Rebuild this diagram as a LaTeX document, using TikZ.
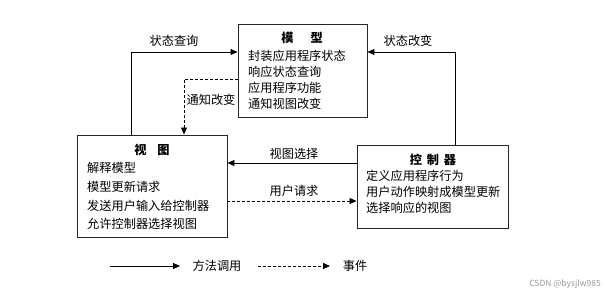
\documentclass[tikz,border=0pt]{standalone}
\usepackage{fontspec}
\setmainfont{Noto Sans CJK SC}
\newfontfamily\cjk{Noto Sans CJK SC}
\usetikzlibrary{arrows.meta}
\begin{document}
\begin{tikzpicture}[x=1pt,y=-1pt,
  box/.style={draw=black!85,line width=0.9pt,minimum width=#1,inner sep=0pt},
  txt/.style={font=\fontsize{12.2}{12.2}\selectfont,inner sep=0pt,anchor=west},
  ttl/.style={font=\fontsize{12.2}{12.2}\selectfont\bfseries,inner sep=0pt},
  lbl/.style={font=\fontsize{12.2}{12.2}\selectfont,inner sep=0pt},
  conn/.style={line width=0.8pt,-{Triangle[length=7pt,width=6pt]}},
  evt/.style={conn,dash pattern=on 3pt off 2pt}]
\useasboundingbox (0,0) rectangle (604,296);
% boxes
\node[box=129pt,minimum height=93pt] (model) at (302.5,70.5) {};
\node[box=150pt,minimum height=102pt] (view) at (152,186) {};
\node[box=151pt,minimum height=83pt] (ctrl) at (432.5,186.5) {};
% model text
\node[ttl] (mt) at (302,38) {模\hspace{1.4em}型};
\node[txt] (m1) at (248,56) {封装应用程序状态};
\node[txt] (m2) at (248,72) {响应状态查询};
\node[txt] (m3) at (248,88) {应用程序功能};
\node[txt] (m4) at (248,104) {通知视图改变};
% view text
\node[ttl] (vt) at (152,150) {视\hspace{0.9em}图};
\node[txt] (v1) at (87,168) {解释模型};
\node[txt] (v2) at (87,187) {模型更新请求};
\node[txt] (v3) at (87,206) {发送用户输入给控制器};
\node[txt] (v4) at (87,224) {允许控制器选择视图};
% controller text
\node[ttl] (ct) at (433,160) {控\hspace{0.4em}制\hspace{0.4em}器};
\node[txt] (c1) at (366,176) {定义应用程序行为};
\node[txt] (c2) at (366,192) {用户动作映射成模型更新};
\node[txt] (c3) at (366,208) {选择响应的视图};
% connectors
\coordinate (q) at (131,52);
\coordinate (s) at (455,52);
\coordinate (n) at (184,79);
\coordinate (vs) at (290,163);
\coordinate (ur) at (290,201);
\draw[conn] (q |- view.north) -- (q) -- (q -| model.west);
\draw[conn] (s |- ctrl.north) -- (s) -- (s -| model.east);
\draw[evt] (n -| model.west) -- (n) -- (n |- view.north);
\draw[conn] (vs -| ctrl.west) -- (vs -| view.east);
\draw[evt] (ur -| view.east) -- (ur -| ctrl.west);
% labels
\node[lbl] (lq) at (174,41) {状态查询};
\node[lbl] (ls) at (408,41) {状态改变};
\node[lbl] (ln) at (211,100) {通知改变};
\node[lbl] (lv) at (294,154) {视图选择};
\node[lbl] (lu) at (294,191) {用户请求};
% legend
\coordinate (a1) at (110,266);
\coordinate (a2) at (180,266);
\coordinate (b1) at (258,266);
\coordinate (b2) at (330,266);
\draw[conn] (a1) -- (a2);
\draw[evt] (b1) -- (b2);
\node[lbl] (la) at (217,266) {方法调用};
\node[lbl] (lb) at (355,266) {事件};
\node[font=\fontsize{8.5}{8.5}\selectfont,text=black!40,inner sep=0pt,anchor=east] (wm) at (601,284) {CSDN @bysjlw985};
\end{tikzpicture}
\end{document}
